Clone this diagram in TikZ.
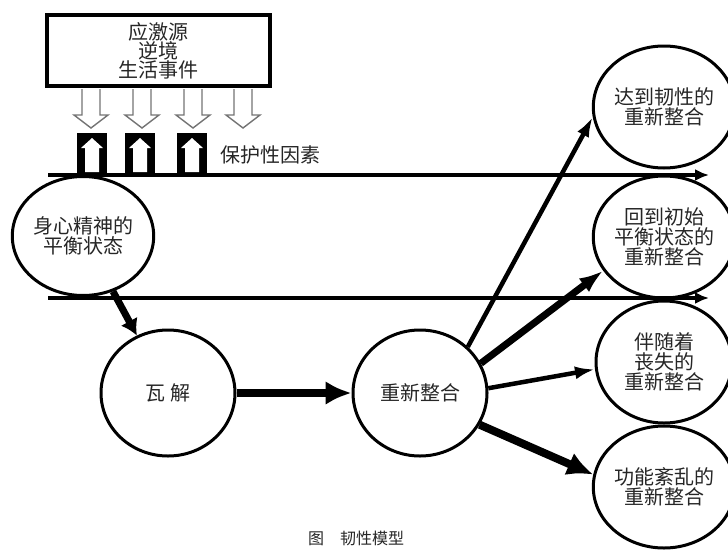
\documentclass[tikz,border=0pt]{standalone}
\usepackage{fontspec}
\newfontfamily\cjk{Noto Sans CJK SC}
\usetikzlibrary{shapes.geometric,arrows.meta}

\tikzset{
  note/.style={text=black!85, font=\cjk\fontsize{20}{20}\selectfont},
  bubble/.style={note, ellipse, draw, line width=3pt, inner sep=0pt,
    minimum width=134pt, minimum height=126pt, align=center},
  outcome/.style={bubble, minimum width=136pt, minimum height=122pt},
  srcbox/.style={note, draw, line width=3.5pt, minimum width=223pt,
    minimum height=71pt, align=center, font=\cjk\fontsize{20}{18.5}\selectfont},
  rail/.style={line width=4pt, -{Latex[length=14pt,width=12pt]}},
  hollow/.style={line width=1.4pt, draw=black!55},
  fat/.style={line width=8pt, -{Latex[length=26pt,width=24pt]}},
  slim/.style={line width=4.5pt, -{Latex[length=20pt,width=13pt]}},
}

\begin{document}
\begin{tikzpicture}[x=1pt,y=-1pt]
  \useasboundingbox (0,0) rectangle (728,549);

  % the two rails
  \coordinate (TL) at (48,175);
  \coordinate (TR) at (709,175);
  \coordinate (BL) at (48,298);
  \coordinate (BR) at (709,298);
  \draw[rail] (TL) -- (TR);
  \draw[rail] (BL) -- (BR);

  % stressors
  \node[srcbox] (source) at (158.5,50.5) {应激源\\逆境\\生活事件};
  \foreach \px in {91,142,193,243} {
    \draw[hollow] (\px-9,89) -- (\px-9,115) -- (\px-17,115) -- (\px,128)
      -- (\px+17,115) -- (\px+9,115) -- (\px+9,89);
  }

  % protective factors
  \foreach \px in {92,140,192} {
    \fill (\px-15,133) rectangle (\px+15,176);
    \fill[white] (\px-7,172) -- (\px-7,148) -- (\px-11,148) -- (\px,138)
      -- (\px+11,148) -- (\px+7,148) -- (\px+7,172) -- cycle;
  }
  \node[note] (protect) at (270,155) {保护性因素};

  \node[bubble, minimum width=137pt, minimum height=119pt] (balance) at (83,236) {身心精神的\\平衡状态};
  \node[bubble] (collapse) at (168,393) {瓦\ 解};
  \node[bubble] (reint) at (420,393) {重新整合};

  \node[outcome] (grow) at (664,107) {达到韧性的\\重新整合};
  \node[outcome] (back) at (664,237) {回到初始\\平衡状态的\\重新整合};
  \node[outcome] (loss) at (664,362) {伴随着\\丧失的\\重新整合};
  \node[outcome] (dys) at (664,487) {功能紊乱的\\重新整合};

  \draw[line width=7pt, -{Latex[length=16pt,width=19pt]}] (balance) -- (collapse);
  \draw[fat] (collapse) -- (reint);
  \draw[slim] (reint.44) -- (grow.188);
  \draw[line width=7pt, -{Latex[length=24pt,width=17pt]}] (reint.26) -- (back.209);
  \draw[slim] (reint.4) -- (loss.186);
  \draw[fat] (reint.332) -- (dys.170);

  \node[note, anchor=south, font=\cjk\fontsize{16}{16}\selectfont] (title) at (356,549) {图\quad 韧性模型};
\end{tikzpicture}
\end{document}
